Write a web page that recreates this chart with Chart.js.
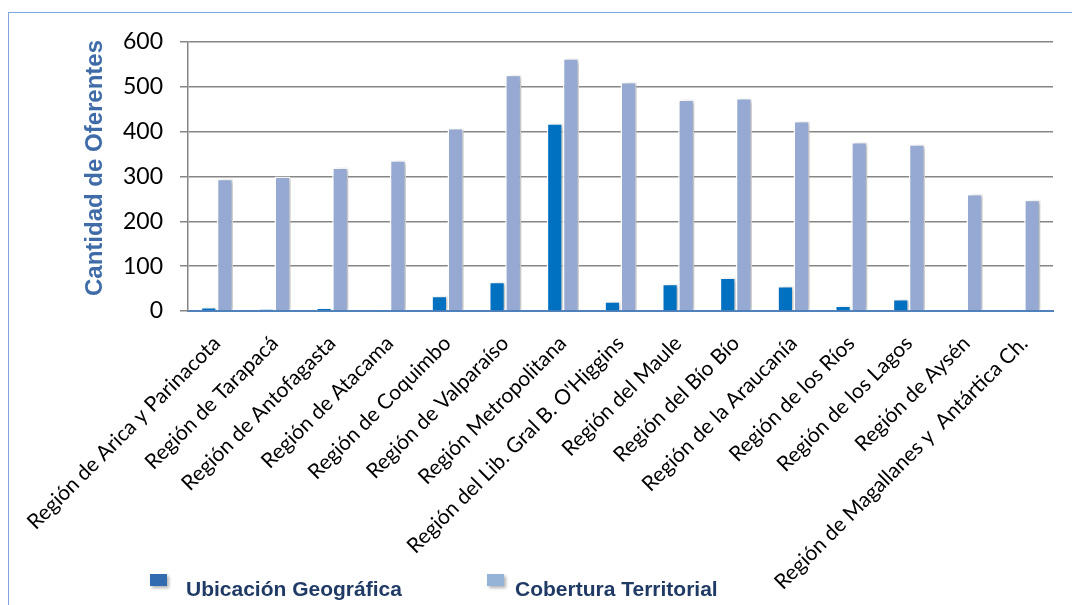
<!DOCTYPE html>
<html>
<head>
<meta charset="utf-8">
<script src="https://cdn.jsdelivr.net/npm/chart.js@4"></script>
<style>
  html, body { margin: 0; padding: 0; background: #fff; }
  #wrap { position: relative; width: 1072px; height: 605px; overflow: hidden; }
  #frame { position: absolute; left: 8px; top: 12px; width: 1100px; height: 700px;
           border-left: 1.5px solid #80A8DC; border-top: 1.5px solid #80A8DC; }
  canvas { position: absolute; left: 0; top: 0; }
  .lg { position: absolute; font: bold 21px "Liberation Sans", Arial, sans-serif; color: #1F3A64; white-space: nowrap; }
  .sw { position: absolute; width: 17px; height: 12px; box-shadow: 2px 2px 3px rgba(0,0,0,0.3); }
</style>
</head>
<body>
<div id="wrap">
  <div id="frame"></div>
  <canvas id="chart" width="1072" height="605"></canvas>
  <div id="legend"></div>
</div>
<script>
const regiones = [
  'Región de Arica y Parinacota',
  'Región de Tarapacá',
  'Región de Antofagasta',
  'Región de Atacama',
  'Región de Coquimbo',
  'Región de Valparaíso',
  'Región Metropolitana',
  "Región del Lib. Gral B. O'Higgins",
  'Región del Maule',
  'Región del Bío Bío',
  'Región de la Araucanía',
  'Región de los Ríos',
  'Región de los Lagos',
  'Región de Aysén',
  'Región de Magallanes y  Antártica Ch.'
];
const ubicacion = [9, 4, 7, 1, 34, 65, 419, 22, 61, 75, 56, 12, 27, 0, 1];
const cobertura = [295, 300, 320, 336, 408, 527, 564, 511, 472, 475, 424, 377, 372, 261, 248];
const yTicks = [0, 100, 200, 300, 400, 500, 600];
const yTitle = 'Cantidad de Oferentes';

// soft drop shadow behind the bars
const barShadow = {
  id: 'barShadow',
  beforeDatasetsDraw(chart) {
    const c = chart.ctx;
    c.save();
    c.shadowColor = 'rgba(0,0,0,0.25)';
    c.shadowBlur = 4;
    c.shadowOffsetX = 3;
    c.shadowOffsetY = 1;
  },
  afterDatasetsDraw(chart) {
    chart.ctx.restore();
  }
};

// vertical axis title, sitting a little above the plot's middle
const axisTitle = {
  id: 'axisTitle',
  afterDraw(chart) {
    const c = chart.ctx;
    c.save();
    c.translate(95, 168);
    c.rotate(-Math.PI / 2);
    c.font = 'bold 24px "Liberation Sans", Arial, sans-serif';
    c.fillStyle = '#3F6CA8';
    c.textAlign = 'center';
    c.textBaseline = 'middle';
    c.fillText(yTitle, 0, 0);
    c.restore();
  }
};

const chart = new Chart(document.getElementById('chart'), {
  type: 'bar',
  data: {
    labels: regiones,
    datasets: [{
      label: 'Ubicación Geográfica',
      data: ubicacion,
      backgroundColor: '#0070C0',
      legendColor: '#336BB0',
      borderColor: '#ffffff',
      borderWidth: 1.5,
      barPercentage: 1,
      categoryPercentage: 0.56
    }, {
      label: 'Cobertura Territorial',
      data: cobertura,
      backgroundColor: '#95A9D2',
      legendColor: '#95B3D7',
      borderColor: '#ffffff',
      borderWidth: 1.5,
      barPercentage: 1,
      categoryPercentage: 0.56
    }]
  },
  options: {
    responsive: false,
    animation: false,
    devicePixelRatio: 1,
    layout: { padding: { left: 0, top: 42, right: 19, bottom: 0 } },
    plugins: {
      legend: { display: false },
      tooltip: { enabled: false }
    },
    scales: {
      x: {
        afterFit(scale) { scale.height = 294; },
        grid: { display: false },
        border: { display: true, color: '#4F81BD', width: 2 },
        ticks: {
          autoSkip: false,
          minRotation: 45,
          maxRotation: 45,
          padding: 12,
          color: '#000',
          font: { family: 'Lato', size: 21 }
        }
      },
      y: {
        min: 0,
        max: 600,
        afterFit(scale) { scale.width = 188; },
        afterBuildTicks(scale) { scale.ticks = yTicks.map(v => ({ value: v })); },
        grid: {
          color: ctx => ctx.tick && ctx.tick.value === 0 ? 'rgba(0,0,0,0)' : '#868686',
          tickColor: '#868686',
          lineWidth: 1.5,
          tickLength: 8
        },
        border: { display: true, color: '#868686', width: 1.5 },
        ticks: {
          padding: 17,
          color: '#000',
          font: { family: 'Lato', size: 23 }
        }
      }
    }
  },
  plugins: [barShadow, axisTitle]
});

// legend laid out under the plot, left of the long slanted labels
const legendPos = [{ sw: 150, tx: 186 }, { sw: 487, tx: 515 }];
const legend = document.getElementById('legend');
chart.data.datasets.forEach((ds, i) => {
  const sw = document.createElement('div');
  sw.className = 'sw';
  sw.style.left = legendPos[i].sw + 'px';
  sw.style.top = '574px';
  sw.style.background = ds.legendColor;
  legend.appendChild(sw);
  const tx = document.createElement('div');
  tx.className = 'lg';
  tx.style.left = legendPos[i].tx + 'px';
  tx.style.top = '577px';
  tx.textContent = ds.label;
  legend.appendChild(tx);
});
</script>
</body>
</html>
